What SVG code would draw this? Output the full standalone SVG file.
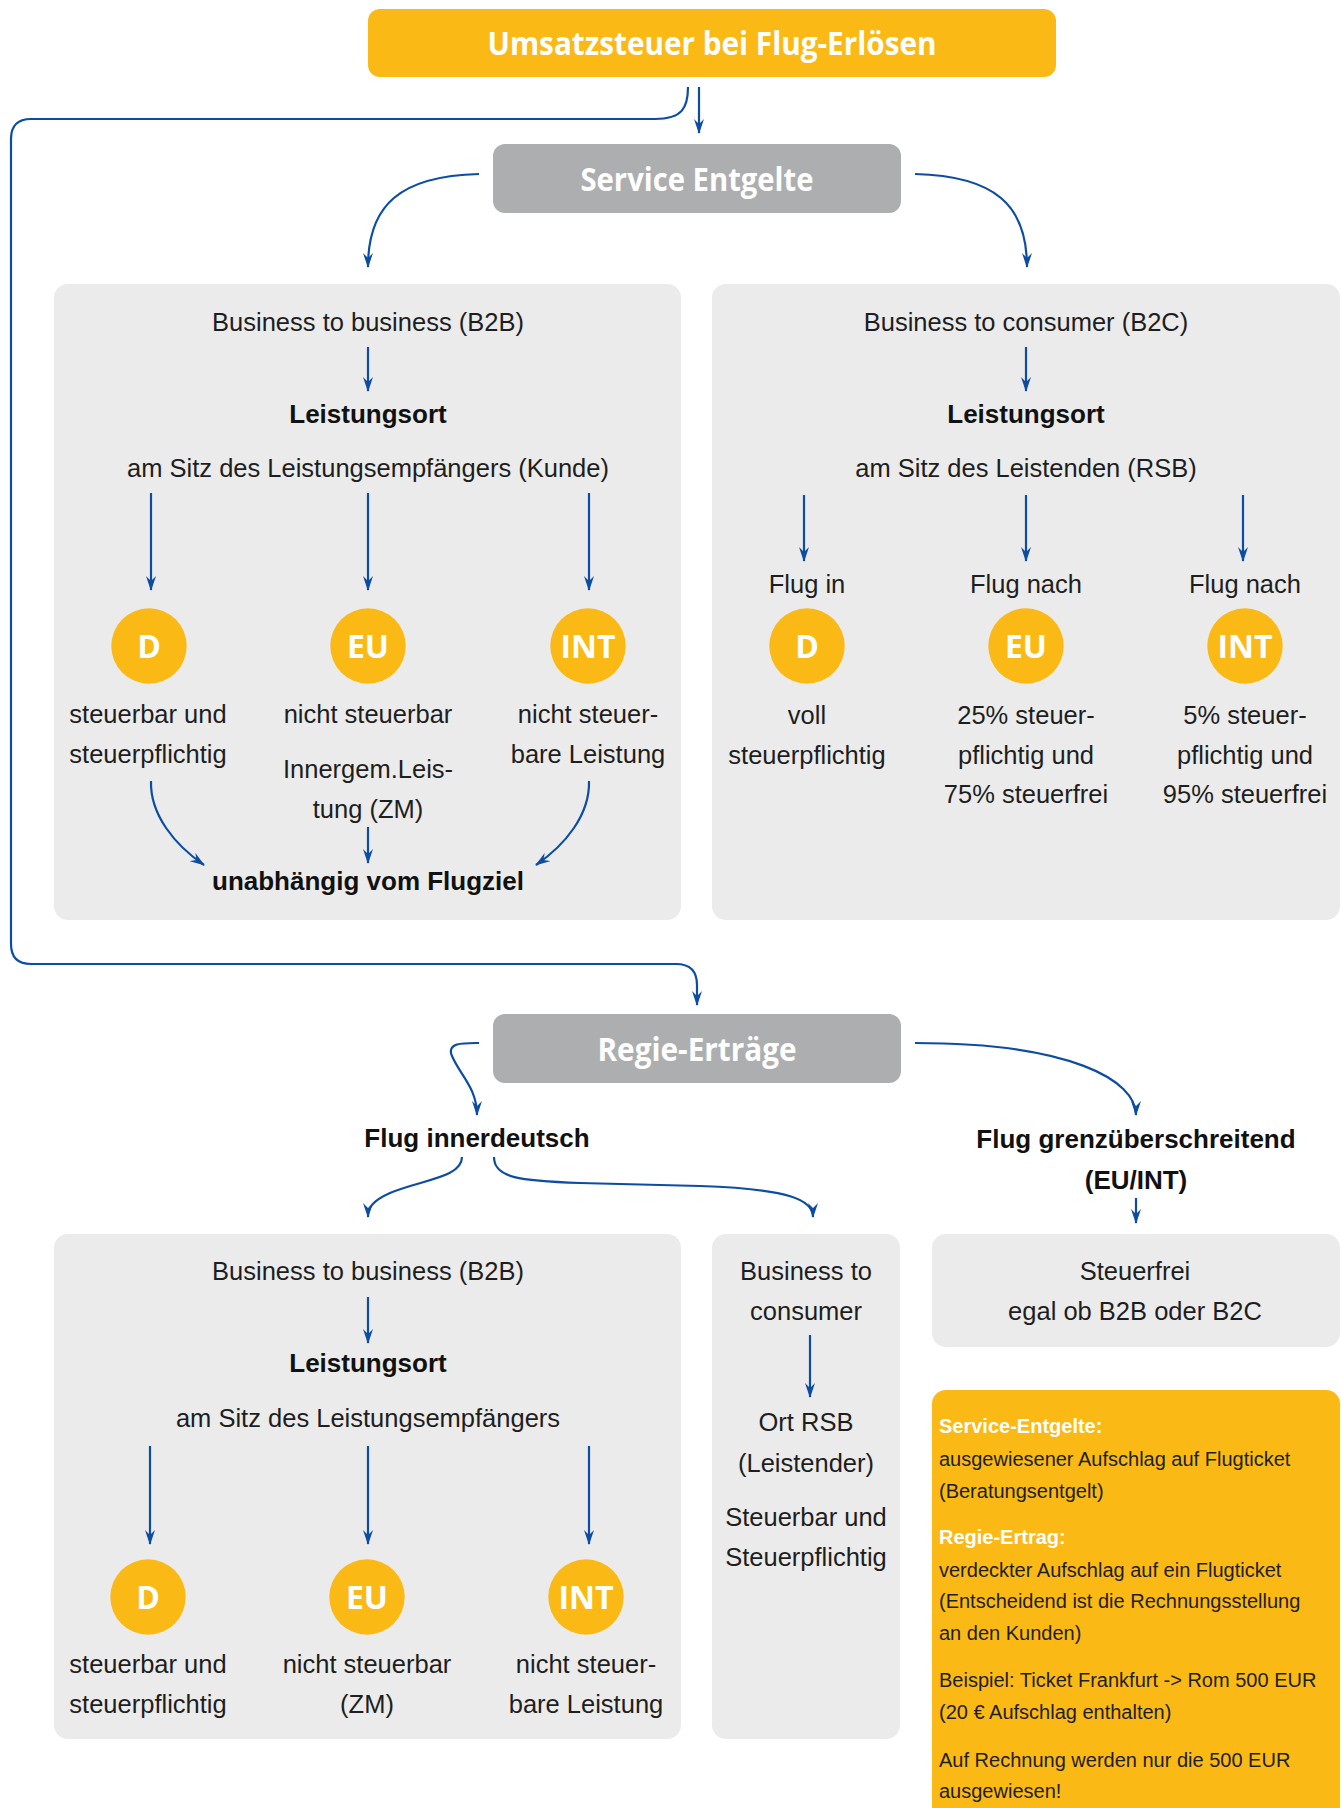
<svg xmlns="http://www.w3.org/2000/svg" width="1341" height="1808" viewBox="0 0 1341 1808">
<defs>
<style>
.hdr{fill:#fbb916}
.gry{fill:#adaeb0}
.pnl{fill:#ebebeb}
.circ{fill:#fbb916}
.ttl{font-family:"Open Sans","Noto Sans",sans-serif;font-weight:700;font-size:32px;fill:#ffffff;text-anchor:middle}
.cl{font-family:"Open Sans","Noto Sans",sans-serif;font-weight:700;font-size:32px;fill:#ffffff;text-anchor:middle}
.t{font-family:"Liberation Sans",Arial,sans-serif;font-size:25.5px;fill:#1e1e1e;text-anchor:middle}
.b{font-family:"Liberation Sans",Arial,sans-serif;font-size:26px;font-weight:700;fill:#111;text-anchor:middle}
.n{font-family:"Liberation Sans",Arial,sans-serif;font-size:20px;fill:#1e1e1e}
.nb{font-family:"Liberation Sans",Arial,sans-serif;font-size:20px;font-weight:700;fill:#ffffff}
.c{fill:none;stroke:#0c4da2;stroke-width:2.2;marker-end:url(#ah)}
</style>
<marker id="ah" viewBox="0 0 15 10" refX="14" refY="5" markerWidth="15" markerHeight="10" markerUnits="userSpaceOnUse" orient="auto">
<path d="M0,0 L15,5 L0,10 L5,5 Z" fill="#0c4da2"/>
</marker>
</defs>
<rect width="1341" height="1808" fill="#ffffff"/>

<g id="title">
<rect class="hdr" x="368" y="9" width="688" height="68" rx="12"/>
<text class="ttl" x="712" y="55" textLength="449" lengthAdjust="spacingAndGlyphs">Umsatzsteuer bei Flug-Erlösen</text>
</g>

<g id="service-entgelte">
<rect class="gry" x="493" y="144" width="408" height="69" rx="12"/>
<text class="ttl" x="697" y="191" textLength="233" lengthAdjust="spacingAndGlyphs">Service Entgelte</text>
</g>

<g id="b2b-service">
<rect class="pnl" x="54" y="284" width="627" height="636" rx="14"/>
<text class="t" x="368" y="331">Business to business (B2B)</text>
<text class="b" x="368" y="423">Leistungsort</text>
<text class="t" x="368" y="477">am Sitz des Leistungsempfängers (Kunde)</text>
<circle class="circ" cx="149" cy="646" r="37.7"/>
<text class="cl" x="149" y="658">D</text>
<circle class="circ" cx="368" cy="646" r="37.7"/>
<text class="cl" x="368" y="658">EU</text>
<circle class="circ" cx="588" cy="646" r="37.7"/>
<text class="cl" x="588" y="658">INT</text>
<text class="t" x="148" y="723">steuerbar und</text>
<text class="t" x="148" y="763">steuerpflichtig</text>
<text class="t" x="368" y="723">nicht steuerbar</text>
<text class="t" x="368" y="778">Innergem.Leis-</text>
<text class="t" x="368" y="818">tung (ZM)</text>
<text class="t" x="588" y="723">nicht steuer-</text>
<text class="t" x="588" y="763">bare Leistung</text>
<text class="b" x="368" y="890">unabhängig vom Flugziel</text>
</g>

<g id="b2c-service">
<rect class="pnl" x="712" y="284" width="628" height="636" rx="14"/>
<text class="t" x="1026" y="331">Business to consumer (B2C)</text>
<text class="b" x="1026" y="423">Leistungsort</text>
<text class="t" x="1026" y="477">am Sitz des Leistenden (RSB)</text>
<text class="t" x="807" y="593">Flug in</text>
<text class="t" x="1026" y="593">Flug nach</text>
<text class="t" x="1245" y="593">Flug nach</text>
<circle class="circ" cx="807" cy="646" r="37.7"/>
<text class="cl" x="807" y="658">D</text>
<circle class="circ" cx="1026" cy="646" r="37.7"/>
<text class="cl" x="1026" y="658">EU</text>
<circle class="circ" cx="1245" cy="646" r="37.7"/>
<text class="cl" x="1245" y="658">INT</text>
<text class="t" x="807" y="724">voll</text>
<text class="t" x="807" y="764">steuerpflichtig</text>
<text class="t" x="1026" y="724">25% steuer-</text>
<text class="t" x="1026" y="764">pflichtig und</text>
<text class="t" x="1026" y="803">75% steuerfrei</text>
<text class="t" x="1245" y="724">5% steuer-</text>
<text class="t" x="1245" y="764">pflichtig und</text>
<text class="t" x="1245" y="803">95% steuerfrei</text>
</g>

<g id="regie-ertraege">
<rect class="gry" x="493" y="1014" width="408" height="69" rx="12"/>
<text class="ttl" x="697" y="1061" textLength="199" lengthAdjust="spacingAndGlyphs">Regie-Erträge</text>
</g>

<g id="flug-innerdeutsch">
<text class="b" x="477" y="1147">Flug innerdeutsch</text>
</g>

<g id="flug-grenzueberschreitend">
<text class="b" x="1136" y="1148">Flug grenzüberschreitend</text>
<text class="b" x="1136" y="1189">(EU/INT)</text>
</g>

<g id="b2b-regie">
<rect class="pnl" x="54" y="1234" width="627" height="505" rx="14"/>
<text class="t" x="368" y="1280">Business to business (B2B)</text>
<text class="b" x="368" y="1372">Leistungsort</text>
<text class="t" x="368" y="1427">am Sitz des Leistungsempfängers</text>
<circle class="circ" cx="148" cy="1597" r="37.7"/>
<text class="cl" x="148" y="1609">D</text>
<circle class="circ" cx="367" cy="1597" r="37.7"/>
<text class="cl" x="367" y="1609">EU</text>
<circle class="circ" cx="586" cy="1597" r="37.7"/>
<text class="cl" x="586" y="1609">INT</text>
<text class="t" x="148" y="1673">steuerbar und</text>
<text class="t" x="148" y="1713">steuerpflichtig</text>
<text class="t" x="367" y="1673">nicht steuerbar</text>
<text class="t" x="367" y="1713">(ZM)</text>
<text class="t" x="586" y="1673">nicht steuer-</text>
<text class="t" x="586" y="1713">bare Leistung</text>
</g>

<g id="b2c-regie">
<rect class="pnl" x="712" y="1234" width="188" height="505" rx="14"/>
<text class="t" x="806" y="1280">Business to</text>
<text class="t" x="806" y="1320">consumer</text>
<text class="t" x="806" y="1431">Ort RSB</text>
<text class="t" x="806" y="1472">(Leistender)</text>
<text class="t" x="806" y="1526">Steuerbar und</text>
<text class="t" x="806" y="1566">Steuerpflichtig</text>
</g>

<g id="steuerfrei">
<rect class="pnl" x="932" y="1234" width="408" height="113" rx="14"/>
<text class="t" x="1135" y="1280">Steuerfrei</text>
<text class="t" x="1135" y="1320">egal ob B2B oder B2C</text>
</g>

<g id="note">
<rect class="hdr" x="932" y="1390" width="408" height="450" rx="14"/>
<text class="nb" x="939" y="1433">Service-Entgelte:</text>
<text class="n" x="939" y="1466">ausgewiesener Aufschlag auf Flugticket</text>
<text class="n" x="939" y="1498">(Beratungsentgelt)</text>
<text class="nb" x="939" y="1544">Regie-Ertrag:</text>
<text class="n" x="939" y="1577">verdeckter Aufschlag auf ein Flugticket</text>
<text class="n" x="939" y="1608">(Entscheidend ist die Rechnungsstellung</text>
<text class="n" x="939" y="1640">an den Kunden)</text>
<text class="n" x="939" y="1687">Beispiel: Ticket Frankfurt -&gt; Rom 500 EUR</text>
<text class="n" x="939" y="1719">(20 € Aufschlag enthalten)</text>
<text class="n" x="939" y="1767">Auf Rechnung werden nur die 500 EUR</text>
<text class="n" x="939" y="1798">ausgewiesen!</text>
</g>

<g id="connectors">
<path class="c" d="M688,87 C688,108 682,119 655,119 L31,119 Q11,119 11,139 L11,944 Q11,964 31,964 L676,964 Q697,964 697,985 L697,1005"/>
<path class="c" d="M699,87 L699,133"/>
<path class="c" d="M479,174 C400,176 368,205 368,267"/>
<path class="c" d="M915,174 C995,176 1027,205 1027,267"/>
<path class="c" d="M368,347 L368,391"/>
<path class="c" d="M151,493 L151,590"/>
<path class="c" d="M368,493 L368,590"/>
<path class="c" d="M589,493 L589,590"/>
<path class="c" d="M151,781 C150,815 175,845 204,865"/>
<path class="c" d="M589,781 C590,815 565,845 536,865"/>
<path class="c" d="M368,827 L368,863"/>
<path class="c" d="M1026,347 L1026,391"/>
<path class="c" d="M804,495 L804,561"/>
<path class="c" d="M1026,495 L1026,561"/>
<path class="c" d="M1243,495 L1243,561"/>
<path class="c" d="M479,1043 C465,1043 446,1042 452,1056 C460,1075 477,1088 477,1115"/>
<path class="c" d="M915,1043 C1070,1043 1136,1080 1136,1115"/>
<path class="c" d="M462,1157 C462,1178 420,1180 390,1193 C372,1201 368,1208 368,1217"/>
<path class="c" d="M494,1157 C494,1178 520,1181 580,1183 L700,1186 C790,1189 813,1200 813,1217"/>
<path class="c" d="M1136,1198 L1136,1223"/>
<path class="c" d="M368,1297 L368,1343"/>
<path class="c" d="M150,1446 L150,1544"/>
<path class="c" d="M368,1446 L368,1544"/>
<path class="c" d="M589,1446 L589,1544"/>
<path class="c" d="M810,1335 L810,1397"/>
</g>
</svg>
